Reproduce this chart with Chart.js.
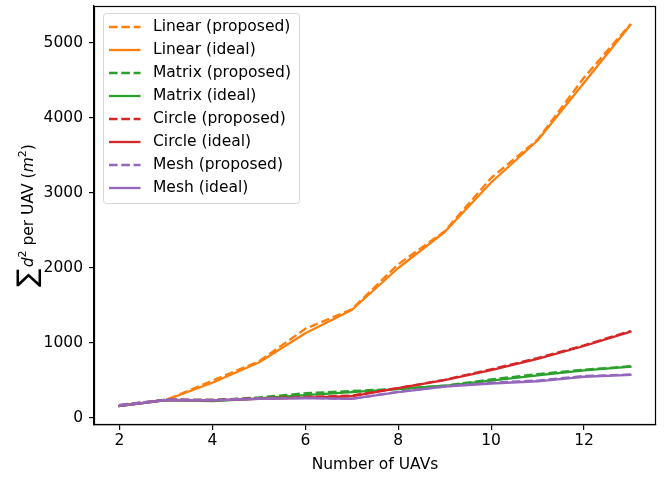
<!DOCTYPE html>
<html><head><meta charset="utf-8">
<script src="https://cdn.jsdelivr.net/npm/chart.js@4/dist/chart.umd.min.js"></script>
<style>html,body{margin:0;padding:0;background:#fff}</style>
</head><body>
<canvas id="c" width="672" height="477" style="width:672px;height:477px;display:block"></canvas>
<script>
const nUAVs = [2, 3, 4, 5, 6, 7, 8, 9, 10, 11, 12, 13];
const linearProposed = [170, 240, 500, 755, 1190, 1450, 2050, 2490, 3200, 3710, 4540, 5250];
const linearIdeal    = [162, 240, 470, 740, 1130, 1440, 2000, 2480, 3140, 3700, 4470, 5240];
const matrixProposed = [170, 245, 240, 275, 330, 360, 390, 430, 515, 585, 645, 690];
const matrixIdeal    = [162, 240, 225, 260, 305, 345, 385, 430, 500, 570, 635, 685];
const circleProposed = [170, 245, 240, 265, 280, 300, 400, 510, 650, 800, 970, 1160];
const circleIdeal    = [162, 240, 235, 255, 270, 290, 400, 505, 640, 790, 960, 1150];
const meshProposed   = [175, 245, 240, 260, 270, 255, 350, 420, 470, 500, 560, 580];
const meshIdeal      = [162, 240, 235, 255, 265, 255, 345, 420, 460, 490, 550, 575];
const seriesLabels = ['Linear (proposed)', 'Linear (ideal)', 'Matrix (proposed)', 'Matrix (ideal)',
                      'Circle (proposed)', 'Circle (ideal)', 'Mesh (proposed)', 'Mesh (ideal)'];
const xTicks = [2, 4, 6, 8, 10, 12];
const yTicks = [0, 1000, 2000, 3000, 4000, 5000];
const xTitle = 'Number of UAVs';

const FONT = '"DejaVu Sans", "Liberation Sans", sans-serif';
const FS = 15.5;
const colors = ['#ff7f0e', '#ff7f0e', '#2ca02c', '#2ca02c', '#d62728', '#d62728', '#9467bd', '#9467bd'];
const seriesValues = [linearProposed, linearIdeal, matrixProposed, matrixIdeal,
                      circleProposed, circleIdeal, meshProposed, meshIdeal];
const DASH = [8.6, 3.7];
const LW = 2.3;

const datasets = seriesValues.map((vals, i) => ({
  label: seriesLabels[i],
  data: nUAVs.map((n, j) => ({x: n, y: vals[j]})),
  borderColor: colors[i],
  backgroundColor: colors[i],
  borderWidth: LW,
  borderDash: i % 2 === 0 ? DASH : [],
  borderCapStyle: i % 2 === 0 ? 'butt' : 'square',
  borderJoinStyle: 'round',
  pointRadius: 0,
  tension: 0,
  fill: false,
  order: seriesValues.length - i
}));

const zeroPad = s => { s.paddingTop = 0; s.paddingBottom = 0; s.paddingLeft = 0; s.paddingRight = 0; };

const framePlugin = {
  id: 'frame',
  afterDatasetsDraw(chart) {
    const {ctx, chartArea: a} = chart;
    ctx.save();
    ctx.strokeStyle = '#000';
    ctx.lineWidth = 1.2;
    ctx.strokeRect(Math.round(a.left) + 0.5, Math.round(a.top) + 0.5,
                   Math.round(a.right - a.left) - 1, Math.round(a.bottom - a.top) - 1);
    ctx.restore();
  },
  afterDraw(chart) {
    const {ctx, chartArea: a} = chart;
    // legend
    ctx.save();
    const bx = 103.5, by = 13.5, bw = 196, bh = 190, r = 3;
    ctx.beginPath();
    ctx.moveTo(bx + r, by);
    ctx.arcTo(bx + bw, by, bx + bw, by + bh, r);
    ctx.arcTo(bx + bw, by + bh, bx, by + bh, r);
    ctx.arcTo(bx, by + bh, bx, by, r);
    ctx.arcTo(bx, by, bx + bw, by, r);
    ctx.closePath();
    ctx.fillStyle = 'rgba(255,255,255,0.8)';
    ctx.fill();
    ctx.strokeStyle = 'rgba(204,204,204,0.8)';
    ctx.lineWidth = 1;
    ctx.stroke();
    chart.data.datasets.forEach((ds, i) => {
      const y = 27 + i * 23;
      ctx.beginPath();
      ctx.setLineDash(ds.borderDash);
      ctx.lineCap = 'butt';
      ctx.strokeStyle = ds.borderColor;
      ctx.lineWidth = LW;
      ctx.moveTo(109, y);
      ctx.lineTo(140.5, y);
      ctx.stroke();
      ctx.setLineDash([]);
      ctx.fillStyle = '#000';
      ctx.font = FS + 'px ' + FONT;
      ctx.textBaseline = 'middle';
      ctx.textAlign = 'left';
      ctx.fillText(ds.label, 153, y);
    });
    ctx.restore();
    // y title
    ctx.save();
    const segs = [
      {t: '\u2211', f: '27px ' + FONT, dy: 3},
      {t: ' ', f: '4px ' + FONT, dy: 0},
      {t: 'd', f: 'italic ' + FS + 'px ' + FONT, dy: 0},
      {t: '2', f: '11px ' + FONT, dy: -7},
      {t: ' per UAV (', f: FS + 'px ' + FONT, dy: 0},
      {t: 'm', f: 'italic ' + FS + 'px ' + FONT, dy: 0},
      {t: '2', f: '11px ' + FONT, dy: -7},
      {t: ')', f: FS + 'px ' + FONT, dy: 0}
    ];
    let total = 0;
    segs.forEach(s => { ctx.font = s.f; s.w = ctx.measureText(s.t).width; total += s.w; });
    ctx.translate(33, (a.top + a.bottom) / 2);
    ctx.rotate(-Math.PI / 2);
    ctx.fillStyle = '#000';
    ctx.textBaseline = 'alphabetic';
    ctx.textAlign = 'left';
    let x = -total / 2;
    segs.forEach(s => { ctx.font = s.f; ctx.fillText(s.t, x, s.dy); x += s.w; });
    ctx.restore();
  }
};

new Chart(document.getElementById('c'), {
  type: 'line',
  data: {datasets},
  options: {
    responsive: false,
    animation: false,
    devicePixelRatio: 1,
    layout: {padding: {left: 0, right: 16, top: 6, bottom: 0}},
    plugins: {legend: {display: false}, tooltip: {enabled: false}},
    scales: {
      x: {
        type: 'linear',
        min: 1.45,
        max: 13.55,
        afterBuildTicks: s => { s.ticks = xTicks.map(v => ({value: v})); },
        afterFit: s => { s.height = 52; zeroPad(s); },
        grid: {display: true, drawOnChartArea: false, drawTicks: true, tickLength: 5, color: '#000', lineWidth: 1.2},
        border: {display: true, color: '#000', width: 1.2},
        ticks: {color: '#000', font: {family: FONT, size: FS}, padding: 2, maxRotation: 0, autoSkip: false,
                callback: v => String(v)},
        title: {display: true, text: xTitle, color: '#000', font: {family: FONT, size: FS}, padding: {top: 0, bottom: 3}}
      },
      y: {
        type: 'linear',
        min: -93,
        max: 5493,
        afterBuildTicks: s => { s.ticks = yTicks.map(v => ({value: v})); },
        afterFit: s => { s.width = 94; zeroPad(s); },
        grid: {display: true, drawOnChartArea: false, drawTicks: true, tickLength: 5, color: '#000', lineWidth: 1.2},
        border: {display: true, color: '#000', width: 1.2},
        ticks: {color: '#000', font: {family: FONT, size: FS}, padding: 6, autoSkip: false,
                callback: v => String(v)}
      }
    }
  },
  plugins: [framePlugin]
});
</script>
</body></html>
